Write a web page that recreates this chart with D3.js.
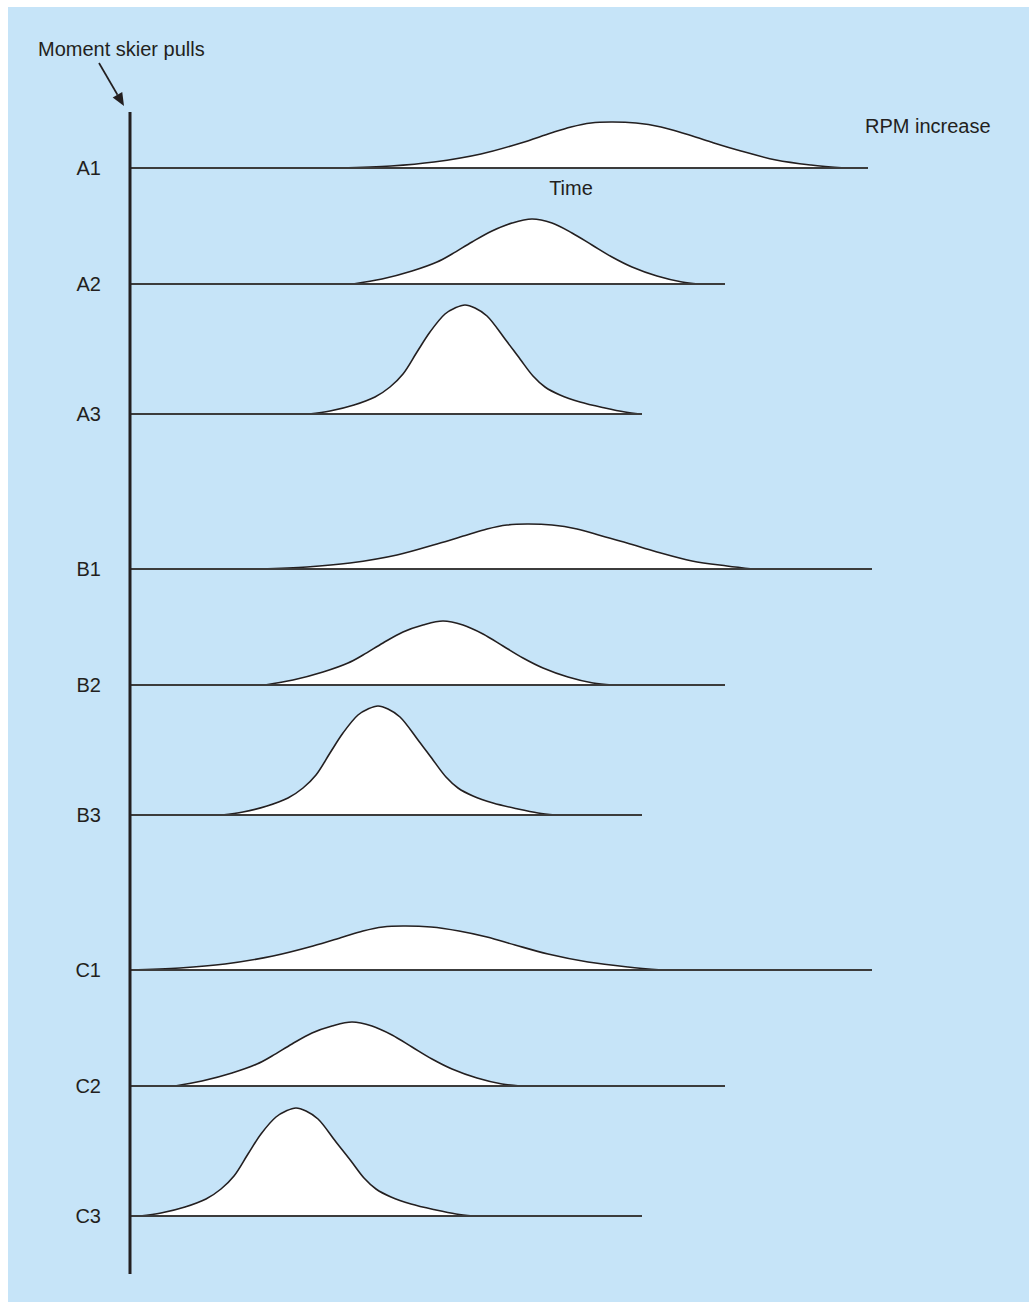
<!DOCTYPE html>
<html>
<head>
<meta charset="utf-8">
<script src="https://cdn.jsdelivr.net/npm/d3@7"></script>
<style>
  html, body { margin: 0; padding: 0; background: #ffffff; overflow: hidden; }
  svg { display: block; }
  text { font-family: "Liberation Sans", Arial, Helvetica, sans-serif; fill: #231f20; }
</style>
</head>
<body>
<svg id="chart" width="1029" height="1302"></svg>
<script>
// ---- Data (time units from the "moment skier pulls" axis; RPM increase units) ----
const rowLabels = ["A1", "A2", "A3", "B1", "B2", "B3", "C1", "C2", "C3"];
const groups = ["A", "B", "C"];
const timeSpan = [738, 595, 512, 742, 595, 512, 742, 595, 512];

const curveA1 = [[210,0],[261,2],[304,6],[351,14],[391,25],[421,35],[441,41],[461,45],[481,46],[506,45],[531,41],[556,34],[581,26],[611,17],[646,8],[681,3],[715,0]];
const curveA2 = [[223,0],[252,5],[282,13],[307,22],[322,30],[342,42],[362,53],[382,61],[402,65],[422,61],[442,51],[462,39],[482,27],[502,17],[527,8],[552,2],[568,0]];
const curveA3 = [[179,0],[200,3],[224,9],[245,17],[260,27],[273,40],[287,62],[300,82],[315,100],[325,106],[335,109],[345,106],[357,98],[375,75],[390,55],[403,38],[415,27],[430,19],[450,12],[475,6],[495,2],[510,0]];
const curveB1 = [[130,0],[177,2],[220,6],[267,14],[307,25],[337,34],[357,40],[377,44],[397,45],[422,44],[447,40],[472,33],[497,26],[527,17],[562,8],[597,3],[623,0]];
const curveB2 = [[135,0],[163,5],[193,13],[218,22],[233,30],[253,42],[273,53],[293,60],[313,64],[333,60],[353,51],[373,39],[393,27],[413,17],[438,8],[463,2],[482,0]];
const curveB3 = [[92,0],[113,3],[137,9],[158,17],[173,27],[186,40],[200,62],[213,82],[228,100],[238,106],[248,109],[258,106],[270,98],[288,75],[303,55],[316,38],[328,27],[343,19],[363,12],[388,6],[408,2],[425,0]];
const curveC1 = [[0,0],[50,2],[95,6],[143,14],[183,24],[213,33],[233,39],[253,43],[273,44],[301,43],[329,39],[357,33],[385,25],[418,16],[458,8],[498,3],[532,0]];
const curveC2 = [[45,0],[72,5],[102,13],[127,22],[142,30],[162,42],[182,53],[202,60],[222,64],[242,60],[262,51],[282,39],[302,27],[322,17],[347,8],[372,2],[390,0]];
const curveC3 = [[10,0],[31,3],[55,9],[76,17],[91,27],[104,40],[118,62],[131,82],[146,99],[156,105],[166,108],[176,105],[188,97],[206,74],[221,55],[234,38],[246,27],[261,19],[281,12],[306,6],[326,2],[343,0]];
const curves = [curveA1, curveA2, curveA3, curveB1, curveB2, curveB3, curveC1, curveC2, curveC3];

const annotationText = "Moment skier pulls";
const yTitle = "RPM increase";
const xTitle = "Time";

// ---- Layout ----
const W = 1029, H = 1302;
const svg = d3.select("#chart");
const axisX = 130;

svg.append("rect").attr("x", 8).attr("y", 7).attr("width", W - 8).attr("height", H - 7).attr("fill", "#c6e4f8");

const x = d3.scaleLinear().domain([0, 900]).range([axisX, axisX + 900]);
const h = d3.scaleLinear().domain([0, 110]).range([0, 110]);
const groupY = d3.scalePoint().domain(groups).range([168, 970]);
const withinOffset = [0, 116, 246];
const baseY = i => groupY(groups[Math.floor(i / 3)]) + withinOffset[i % 3];
const smooth = d3.curveCatmullRom.alpha(0.5);

rowLabels.forEach((lab, i) => {
  const by = baseY(i);
  const g = svg.append("g");
  const area = d3.area().x(d => x(d[0])).y0(by).y1(d => by - h(d[1])).curve(smooth);
  const line = d3.line().x(d => x(d[0])).y(d => by - h(d[1])).curve(smooth);
  g.append("path").datum(curves[i]).attr("d", area).attr("fill", "#ffffff");
  g.append("path").datum(curves[i]).attr("d", line).attr("fill", "none").attr("stroke", "#231f20").attr("stroke-width", 1.6);
  g.append("line").attr("x1", x(0)).attr("x2", x(timeSpan[i])).attr("y1", by).attr("y2", by)
    .attr("stroke", "#3c3c3c").attr("stroke-width", 1.8);
  g.append("text").attr("x", 101).attr("y", by + 7).attr("text-anchor", "end").attr("font-size", 20).text(lab);
});

// vertical axis
svg.append("line").attr("x1", axisX).attr("x2", axisX).attr("y1", 112).attr("y2", 1274)
  .attr("stroke", "#231f20").attr("stroke-width", 3);

// annotation arrow
const tip = [124, 106], tail = [99, 63];
const dx = tip[0] - tail[0], dy = tip[1] - tail[1], len = Math.hypot(dx, dy);
const ux = dx / len, uy = dy / len, hl = 13, hw = 5.5;
const bx = tip[0] - ux * hl, byy = tip[1] - uy * hl;
svg.append("line").attr("x1", tail[0]).attr("y1", tail[1]).attr("x2", bx).attr("y2", byy)
  .attr("stroke", "#231f20").attr("stroke-width", 1.7);
svg.append("path").attr("d", `M${tip[0]},${tip[1]} L${bx - uy * hw},${byy + ux * hw} L${bx + uy * hw},${byy - ux * hw} Z`)
  .attr("fill", "#231f20");

svg.append("text").attr("x", 38).attr("y", 56).attr("font-size", 20).text(annotationText);
svg.append("text").attr("x", 865).attr("y", 133).attr("font-size", 20).text(yTitle);
svg.append("text").attr("x", 571).attr("y", 195).attr("text-anchor", "middle").attr("font-size", 20).text(xTitle);
</script>
</body>
</html>
